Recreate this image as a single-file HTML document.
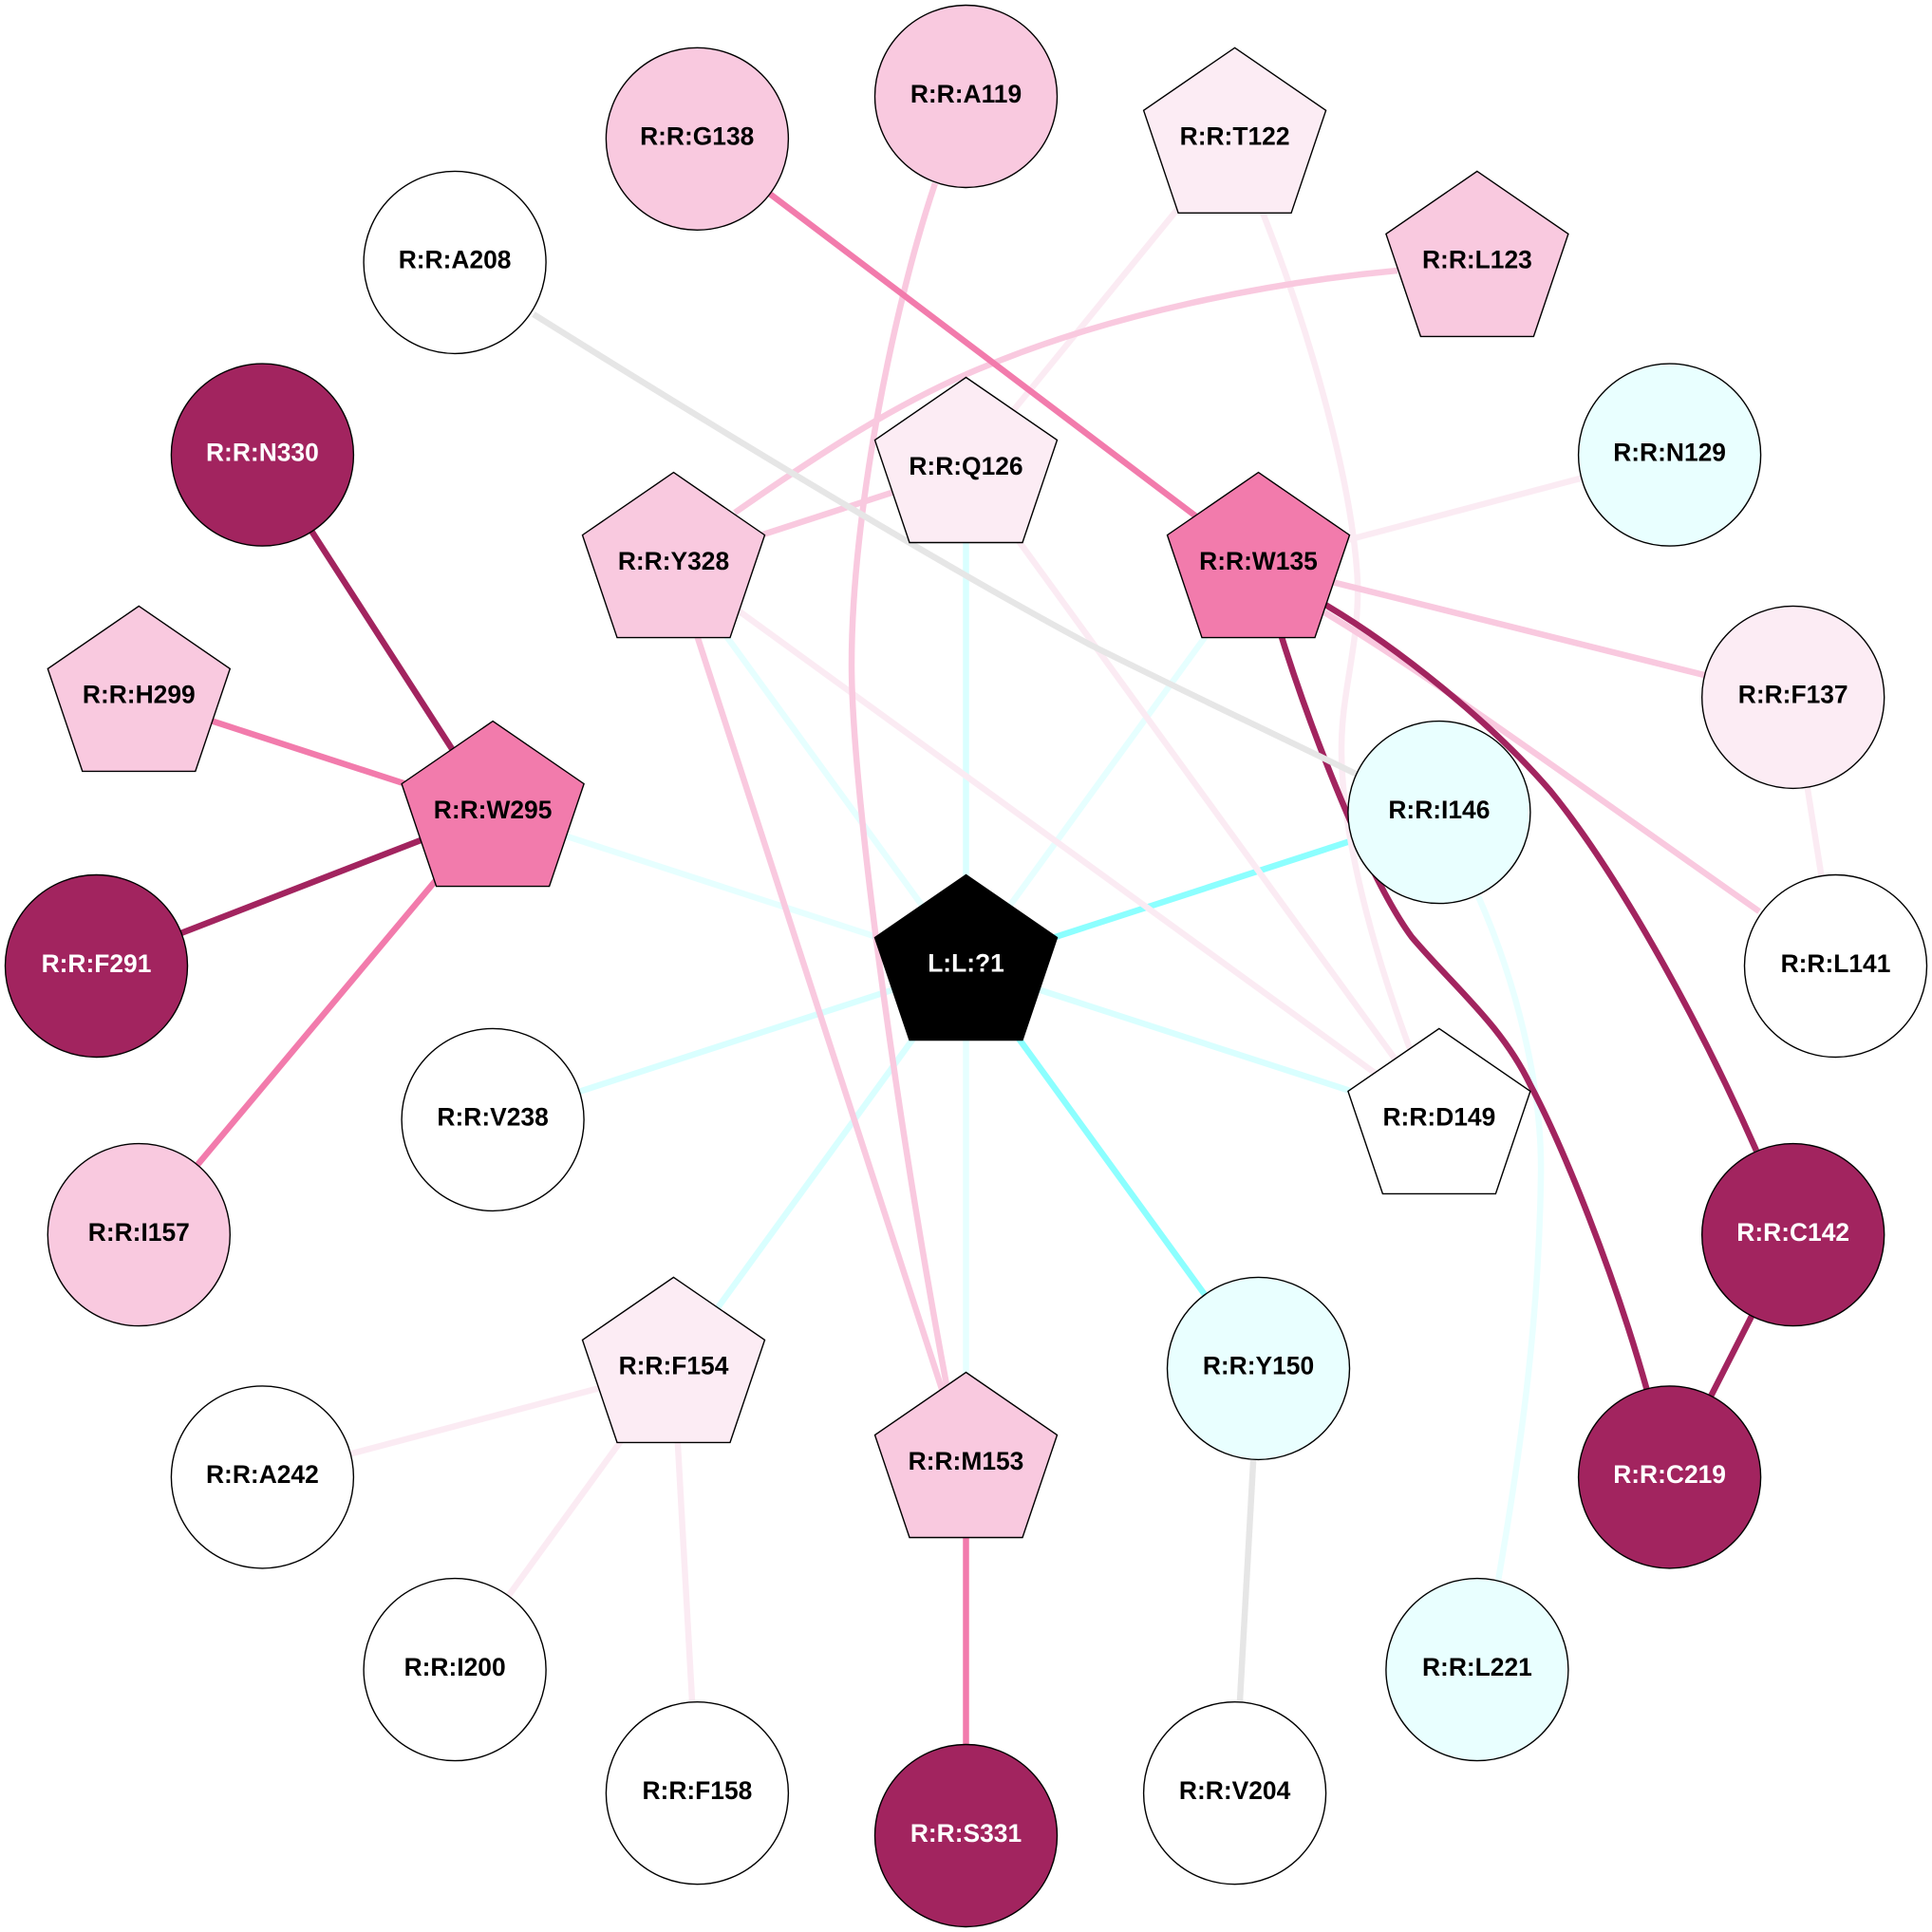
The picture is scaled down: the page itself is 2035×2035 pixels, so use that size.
<!DOCTYPE html>
<html><head><meta charset="utf-8"><style>
html,body{margin:0;padding:0;background:#fff;width:2035px;height:2035px;overflow:hidden}
svg{display:block}
text{font-family:"Liberation Sans",Arial,sans-serif;font-weight:bold;font-size:26.4px;text-anchor:middle;fill:#000}
text.w{fill:#fff}
.n{stroke:#000;stroke-width:1.4}
.e{fill:none;stroke-width:6.5}
</style></head><body>
<svg xmlns="http://www.w3.org/2000/svg" width="2035" height="2035" viewBox="0 0 2035 2035">
<rect width="2035" height="2035" fill="#fff"/>
<g class="edges">
<line class="e" x1="1017.5" y1="493.5" x2="1017.5" y2="1017.5" stroke="#d9ffff"/>
<line class="e" x1="1325.5" y1="593.6" x2="1017.5" y2="1017.5" stroke="#e6ffff"/>
<line class="e" x1="709.5" y1="593.6" x2="1017.5" y2="1017.5" stroke="#e6ffff"/>
<line class="e" x1="519.1" y1="855.6" x2="1017.5" y2="1017.5" stroke="#e6ffff"/>
<line class="e" x1="519.1" y1="1179.4" x2="1017.5" y2="1017.5" stroke="#d9ffff"/>
<line class="e" x1="1515.9" y1="1179.4" x2="1017.5" y2="1017.5" stroke="#d9ffff"/>
<line class="e" x1="709.5" y1="1441.4" x2="1017.5" y2="1017.5" stroke="#d9ffff"/>
<line class="e" x1="1017.5" y1="1541.5" x2="1017.5" y2="1017.5" stroke="#e6ffff"/>
<line class="e" x1="1515.9" y1="855.6" x2="1017.5" y2="1017.5" stroke="#8cffff"/>
<line class="e" x1="1325.5" y1="1441.4" x2="1017.5" y2="1017.5" stroke="#8cffff"/>
<path class="e" d="M1557,944 C1595,1030 1625,1140 1623,1240 C1621,1380 1605,1510 1578,1665" stroke="#e9ffff"/>
<line class="e" x1="1300.6" y1="146.3" x2="1017.5" y2="493.5" stroke="#fbebf3"/>
<path class="e" d="M1330,224 C1380,350 1425,510 1430,613 C1432,680 1412,730 1413,793 C1414,880 1445,1000 1490,1118" stroke="#fbebf3"/>
<line class="e" x1="1017.5" y1="493.5" x2="1515.9" y2="1179.4" stroke="#fbebf3"/>
<line class="e" x1="709.5" y1="593.6" x2="1515.9" y2="1179.4" stroke="#fbebf3"/>
<line class="e" x1="1758.6" y1="479.1" x2="1325.5" y2="593.6" stroke="#fbebf3"/>
<line class="e" x1="1888.7" y1="734.4" x2="1933.5" y2="1017.5" stroke="#fbebf3"/>
<line class="e" x1="709.5" y1="1441.4" x2="276.4" y2="1555.9" stroke="#fbebf3"/>
<line class="e" x1="709.5" y1="1441.4" x2="479.1" y2="1758.6" stroke="#fbebf3"/>
<line class="e" x1="709.5" y1="1441.4" x2="734.4" y2="1888.7" stroke="#fbebf3"/>
<line class="e" x1="709.5" y1="593.6" x2="1017.5" y2="493.5" stroke="#f9c9df"/>
<line class="e" x1="709.5" y1="593.6" x2="1017.5" y2="1541.5" stroke="#f9c9df"/>
<path class="e" d="M985,193 C942,320 897,540 897,700 C897,840 952,1230 1005,1500" stroke="#f9c9df"/>
<path class="e" d="M1472,285 C1330,298 1170,332 1045,383 C950,420 860,480 774,540" stroke="#f9c9df"/>
<line class="e" x1="1325.5" y1="593.6" x2="1888.7" y2="734.4" stroke="#f9c9df"/>
<path class="e" d="M1395,645 C1500,708 1640,810 1853,960" stroke="#f9c9df"/>
<line class="e" x1="734.4" y1="146.3" x2="1325.5" y2="593.6" stroke="#f27bac"/>
<line class="e" x1="1017.5" y1="1541.5" x2="1017.5" y2="1933.5" stroke="#f27bac"/>
<line class="e" x1="519.1" y1="855.6" x2="146.3" y2="734.4" stroke="#f27bac"/>
<line class="e" x1="519.1" y1="855.6" x2="146.3" y2="1300.6" stroke="#f27bac"/>
<line class="e" x1="519.1" y1="855.6" x2="276.4" y2="479.1" stroke="#a2245f"/>
<line class="e" x1="519.1" y1="855.6" x2="101.5" y2="1017.5" stroke="#a2245f"/>
<path class="e" d="M1391,634 C1470,680 1570,760 1633,833 C1700,915 1785,1065 1850,1212" stroke="#a2245f"/>
<path class="e" d="M1345,655 C1380,770 1442,926 1487,987 C1532,1040 1582,1080 1612,1143 C1647,1209 1700,1340 1735,1465" stroke="#a2245f"/>
<line class="e" x1="1888.7" y1="1300.6" x2="1758.6" y2="1555.9" stroke="#a2245f"/>
<line class="e" x1="1325.5" y1="1441.4" x2="1300.6" y2="1888.7" stroke="#e6e6e6"/>
<path class="e" d="M562,331 C760,455 1000,600 1150,680 C1240,725 1340,772 1430,816" stroke="#e6e6e6"/>
</g>
<circle class="n" cx="1017.5" cy="101.5" r="96" fill="#f9c9df"/><text x="1017.5" y="108">R:R:A119</text>
<polygon class="n" transform="translate(1300.6 146.3)" points="0,-96 96,-30 59.5,78 -59.5,78 -96,-30" fill="#fcecf4"/><text x="1300.6" y="152.6">R:R:T122</text>
<polygon class="n" transform="translate(1555.9 276.4)" points="0,-96 96,-30 59.5,78 -59.5,78 -96,-30" fill="#f9c9df"/><text x="1555.9" y="282.7">R:R:L123</text>
<circle class="n" cx="1758.6" cy="479.1" r="96" fill="#e9ffff"/><text x="1758.6" y="485.4">R:R:N129</text>
<circle class="n" cx="1888.7" cy="734.4" r="96" fill="#fcecf4"/><text x="1888.7" y="740.7">R:R:F137</text>
<circle class="n" cx="1933.5" cy="1017.5" r="96" fill="#fff"/><text x="1933.5" y="1023.8">R:R:L141</text>
<circle class="n" cx="1888.7" cy="1300.6" r="96" fill="#a2245f"/><text class="w" x="1888.7" y="1306.9">R:R:C142</text>
<circle class="n" cx="1758.6" cy="1555.9" r="96" fill="#a2245f"/><text class="w" x="1758.6" y="1562.2">R:R:C219</text>
<circle class="n" cx="1555.9" cy="1758.6" r="96" fill="#e9ffff"/><text x="1555.9" y="1764.9">R:R:L221</text>
<circle class="n" cx="1300.6" cy="1888.7" r="96" fill="#fff"/><text x="1300.6" y="1895">R:R:V204</text>
<circle class="n" cx="1017.5" cy="1933.5" r="96" fill="#a2245f"/><text class="w" x="1017.5" y="1939.8">R:R:S331</text>
<circle class="n" cx="734.4" cy="1888.7" r="96" fill="#fff"/><text x="734.4" y="1895">R:R:F158</text>
<circle class="n" cx="479.1" cy="1758.6" r="96" fill="#fff"/><text x="479.1" y="1764.9">R:R:I200</text>
<circle class="n" cx="276.4" cy="1555.9" r="96" fill="#fff"/><text x="276.4" y="1562.2">R:R:A242</text>
<circle class="n" cx="146.3" cy="1300.6" r="96" fill="#f9c9df"/><text x="146.3" y="1306.9">R:R:I157</text>
<circle class="n" cx="101.5" cy="1017.5" r="96" fill="#a2245f"/><text class="w" x="101.5" y="1023.8">R:R:F291</text>
<polygon class="n" transform="translate(146.3 734.4)" points="0,-96 96,-30 59.5,78 -59.5,78 -96,-30" fill="#f9c9df"/><text x="146.3" y="740.7">R:R:H299</text>
<circle class="n" cx="276.4" cy="479.1" r="96" fill="#a2245f"/><text class="w" x="276.4" y="485.4">R:R:N330</text>
<circle class="n" cx="479.1" cy="276.4" r="96" fill="#fff"/><text x="479.1" y="282.7">R:R:A208</text>
<circle class="n" cx="734.4" cy="146.3" r="96" fill="#f9c9df"/><text x="734.2" y="152.6">R:R:G138</text>
<polygon class="n" transform="translate(1017.5 493.5)" points="0,-96 96,-30 59.5,78 -59.5,78 -96,-30" fill="#fcecf4"/><text x="1017.5" y="499.8">R:R:Q126</text>
<polygon class="n" transform="translate(1325.5 593.6)" points="0,-96 96,-30 59.5,78 -59.5,78 -96,-30" fill="#f27bac"/><text x="1325.5" y="599.9">R:R:W135</text>
<circle class="n" cx="1515.9" cy="855.6" r="96" fill="#e9ffff"/><text x="1515.9" y="861.9">R:R:I146</text>
<polygon class="n" transform="translate(1515.9 1179.4)" points="0,-96 96,-30 59.5,78 -59.5,78 -96,-30" fill="#fff"/><text x="1515.9" y="1185.7">R:R:D149</text>
<circle class="n" cx="1325.5" cy="1441.4" r="96" fill="#e9ffff"/><text x="1325.5" y="1447.7">R:R:Y150</text>
<polygon class="n" transform="translate(1017.5 1541.5)" points="0,-96 96,-30 59.5,78 -59.5,78 -96,-30" fill="#f9c9df"/><text x="1017.5" y="1547.8">R:R:M153</text>
<polygon class="n" transform="translate(709.5 1441.4)" points="0,-96 96,-30 59.5,78 -59.5,78 -96,-30" fill="#fcecf4"/><text x="709.5" y="1447.7">R:R:F154</text>
<circle class="n" cx="519.1" cy="1179.4" r="96" fill="#fff"/><text x="519.1" y="1185.7">R:R:V238</text>
<polygon class="n" transform="translate(519.1 855.6)" points="0,-96 96,-30 59.5,78 -59.5,78 -96,-30" fill="#f27bac"/><text x="519.1" y="861.9">R:R:W295</text>
<polygon class="n" transform="translate(709.5 593.6)" points="0,-96 96,-30 59.5,78 -59.5,78 -96,-30" fill="#f9c9df"/><text x="709.5" y="599.9">R:R:Y328</text>
<polygon class="n" transform="translate(1017.5 1017.5)" points="0,-96 96,-30 59.5,78 -59.5,78 -96,-30" fill="#000"/><text class="w" x="1017.5" y="1023.5">L:L:?1</text>
</svg>
</body></html>
